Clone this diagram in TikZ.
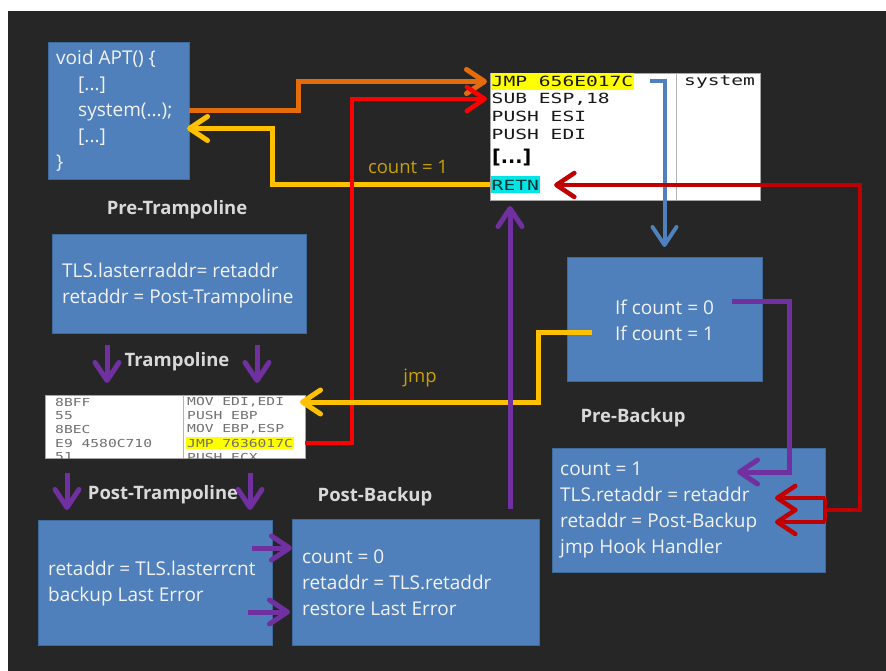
\documentclass[tikz,border=0pt]{standalone}
\usepackage{graphicx}
\usepackage{fontspec}
\setmainfont{Open Sans}
\newfontfamily\asmfont{DejaVu Sans Mono}
\newfontfamily\dotsfont{DejaVu Sans}
\usetikzlibrary{arrows.meta,calc}

\definecolor{canvas}{HTML}{262626}
\definecolor{boxblue}{HTML}{4F80BC}
\definecolor{boxedge}{HTML}{3F6A9C}
\definecolor{boxtext}{HTML}{F2F2F2}
\definecolor{captext}{HTML}{D9D9D9}
\definecolor{flowred}{HTML}{FF0000}
\definecolor{darkred}{HTML}{C00000}
\definecolor{flowgold}{HTML}{FFC000}
\definecolor{labelgold}{HTML}{C9A100}
\definecolor{floworange}{HTML}{E46C0A}
\definecolor{flowpurple}{HTML}{7030A0}
\definecolor{flowblue}{HTML}{4F81BD}
\definecolor{hlyellow}{HTML}{FFFF00}
\definecolor{hlcyan}{HTML}{00E5E5}
\definecolor{asmgray}{HTML}{707070}

% wide fixed-pitch lettering used in the disassembly listings
\newcommand{\asmwide}[1]{\scalebox{1.4}[1]{#1}}
\newcommand{\asmnarrow}[1]{\scalebox{1.33}[1]{#1}}

\tikzset{
  box/.style={draw=boxedge, line width=0.8pt, fill=boxblue, anchor=north west,
    outer sep=0pt, inner sep=0pt},
  boxtxt/.style={anchor=west, inner sep=0pt, text=boxtext, align=left,
    font=\fontsize{19}{26}\selectfont},
  caption/.style={text=captext, font=\bfseries\fontsize{18.5}{22}\selectfont},
  goldlabel/.style={text=labelgold, font=\fontsize{18.5}{22}\selectfont},
  listing/.style={draw=gray!70, line width=0.8pt, fill=white, anchor=north west,
    outer sep=0pt, inner sep=0pt},
  asm/.style={anchor=west, inner xsep=1pt, inner ysep=0pt, minimum height=17pt,
    text=black!90, font=\asmfont\fontsize{14}{16}\selectfont},
  asmsmall/.style={anchor=west, inner xsep=1pt, inner ysep=0pt, minimum height=12pt,
    text=asmgray, font=\asmfont\fontsize{11}{13}\selectfont},
  flow/.style={line width=#1, -{Straight Barb[length=18pt,width=24pt,round]}},
  flow/.default=4.5pt,
}

\begin{document}
\begin{tikzpicture}[x=1pt,y=-1pt]
\useasboundingbox (0,0) rectangle (886,671);
\fill[canvas] (8,11) rectangle (886,671);

% ---- blue state boxes ----
\node[box, minimum width=141pt, minimum height=137pt] (apt) at (48,42) {};
\node[boxtxt] (apttext) at ($(apt.west)+(8,0)$)
  {void APT() \{\\\hspace*{22pt}[...]\\\hspace*{22pt}system(...);\\\hspace*{22pt}[...]\\\}};
\node[box, minimum width=254pt, minimum height=99pt] (tls) at (52,234) {};
\node[boxtxt] (tlstext) at ($(tls.west)+(10,2)$)
  {TLS.lasterraddr= retaddr\\retaddr = Post-Trampoline};
\node[box, minimum width=234pt, minimum height=125pt] (posttramp) at (38,520) {};
\node[boxtxt] (posttramptext) at ($(posttramp.west)+(10,1)$)
  {retaddr = TLS.lasterrcnt\\backup Last Error};
\node[box, minimum width=247pt, minimum height=126pt] (postbackup) at (292,519) {};
\node[boxtxt] (postbackuptext) at ($(postbackup.west)+(10,1)$)
  {count = 0\\retaddr = TLS.retaddr\\restore Last Error};
\node[box, minimum width=195pt, minimum height=124pt] (precheck) at (567,257) {};
\node[boxtxt, anchor=center] (prechecktext) at ($(precheck.center)+(0,1)$)
  {If count = 0\\If count = 1};
\node[box, minimum width=273pt, minimum height=124pt] (prebackup) at (552,448) {};
\node[boxtxt] (prebackuptext) at ($(prebackup.west)+(8,0)$)
  {count = 1\\TLS.retaddr = retaddr\\retaddr = Post-Backup\\jmp Hook Handler};

% ---- patched entry of system() ----
\node[listing, minimum width=270pt, minimum height=127pt] (code) at (490,73) {};
\draw[gray!60, line width=0.8pt] ($(code.north west)+(186,0)$) -- ($(code.south west)+(186,0)$);
\node[asm, fill=hlyellow] (c1) at (490.5,81.5) {\asmwide{JMP 656E017C}};
\node[asm] (c2) at (490.5,99) {\asmwide{SUB ESP,18}};
\node[asm] (c3) at (490.5,116.5) {\asmwide{PUSH ESI}};
\node[asm] (c4) at (490.5,134) {\asmwide{PUSH EDI}};
\node[anchor=west, inner sep=0pt, font=\dotsfont\bfseries\fontsize{19}{20}\selectfont] (c5) at (492,158) {[...]};
\node[asm, fill=hlcyan, text=black!60!teal] (c6) at (490.5,185) {\asmwide{RETN}};
\node[asm] (csym) at (683,82) {\asmwide{system}};

% ---- trampoline listing ----
\node[listing, minimum width=260pt, minimum height=63pt] (tramp) at (45,395) {};
\begin{scope}
  \clip (tramp.north west) rectangle (tramp.south east);
  \draw[gray!60, line width=0.8pt] ($(tramp.north west)+(138,0)$) -- ($(tramp.south west)+(138,0)$);
  \node[asmsmall] (t1) at (54,402) {\asmnarrow{8BFF}};
  \node[asmsmall] (t2) at (54,415.5) {\asmnarrow{55}};
  \node[asmsmall] (t3) at (54,429) {\asmnarrow{8BEC}};
  \node[asmsmall] (t4) at (54,443) {\asmnarrow{E9 4580C710}};
  \node[asmsmall] (t5) at (54,457) {\asmnarrow{51}};
  \node[asmsmall] (t6) at (186,402) {\asmnarrow{MOV EDI,EDI}};
  \node[asmsmall] (t7) at (186,415.5) {\asmnarrow{PUSH EBP}};
  \node[asmsmall] (t8) at (186,429) {\asmnarrow{MOV EBP,ESP}};
  \node[asmsmall, fill=hlyellow] (t9) at (186,443) {\asmnarrow{JMP 7636017C}};
  \node[asmsmall] (t10) at (186,457) {\asmnarrow{PUSH ECX}};
\end{scope}

% ---- captions ----
\node[caption] (lblpretramp) at (177,210) {Pre-Trampoline};
\node[caption] (lbltramp) at (177,362) {Trampoline};
\node[caption] (lblposttramp) at (163,495) {Post-Trampoline};
\node[caption] (lblpostbackup) at (375,497) {Post-Backup};
\node[caption] (lblprebackup) at (633,418) {Pre-Backup};
\node[goldlabel] (lblcount) at (408,167) {count = 1};
\node[goldlabel] (lbljmp) at (420,378) {jmp};

% ---- control flow ----
% call from APT into the hooked system()
\draw[flow=5pt, floworange] (apt.east) -- ++(109,0) |- ($(code.west |- c1)+(-3,0)$);
% RETN back to the caller
\coordinate (aptret) at ($(apt.east)+(-2,18)$);
\draw[flow=5pt, flowgold] (code.west |- c6) -| ($(aptret)+(85,0)$) -- (aptret);
% trampoline jumps back behind the patched bytes
\draw[flow=4.5pt, flowred] (tramp.east |- t9) -- ++(47,0) |- ($(code.west |- c2)+(-3,0)$);
% patched jump into the hook check
\draw[flow=4pt, flowblue, shorten >=10pt] ($(c1.east)+(15,0)$) -| (precheck.north);
% count = 0 branch
\draw[flow=5pt, flowpurple] ($(precheck.north east)+(-30,44)$) -- ++(57,0) |- ($(prebackup.north west)+(185,24)$);
% count = 1 branch
\draw[flow=5pt, flowgold] ($(precheck.north west)+(25,75)$) -- ++(-54,0) |- ($(tramp.north east)+(-5,7)$);
% return address rewritten to Post-Backup
\draw[darkred, line width=4.5pt, {Straight Barb[length=18pt,width=24pt,round]}-]
  ($(c6.east)+(14,0)$) -| ($(prebackup.east)+(35,0)$) -- (prebackup.east);
\draw[darkred, line width=4.5pt] ($(prebackup.east)+(0,-12)$) -- ($(prebackup.east)+(0,12)$);
\draw[flow=4.5pt, darkred] ($(prebackup.east)+(0,-12)$) -- ($(prebackup.east)+(-50,-12)$);
\draw[flow=4.5pt, darkred] ($(prebackup.east)+(0,12)$) -- ($(prebackup.east)+(-50,12)$);
% Post-Backup resumes the original code
\coordinate (pbstart) at ($(postbackup.north west)+(218,-10)$);
\draw[flow=5pt, flowpurple, shorten >=6pt] (pbstart) -- (pbstart |- code.south);
% into the trampoline
\draw[flow=5pt, flowpurple] ($(tls.south west)+(55,12)$) -- ($(tramp.north west)+(62,-12)$);
\draw[flow=5pt, flowpurple] ($(tls.south west)+(205,12)$) -- ($(tramp.north west)+(212,-12)$);
% into Post-Trampoline
\draw[flow=5pt, flowpurple] ($(tramp.south west)+(22,15)$) -- ($(posttramp.north west)+(29,-10)$);
\draw[flow=5pt, flowpurple] ($(tramp.south west)+(205,15)$) -- ($(posttramp.north west)+(212,-10)$);
% Post-Trampoline hands over to Post-Backup
\draw[flow=5pt, flowpurple] ($(posttramp.north east)+(-20,28)$) -- ($(postbackup.north west)+(0,29)$);
\draw[flow=5pt, flowpurple] ($(posttramp.north east)+(-24,92)$) -- ($(postbackup.north west)+(-2,93)$);
\end{tikzpicture}
\end{document}
